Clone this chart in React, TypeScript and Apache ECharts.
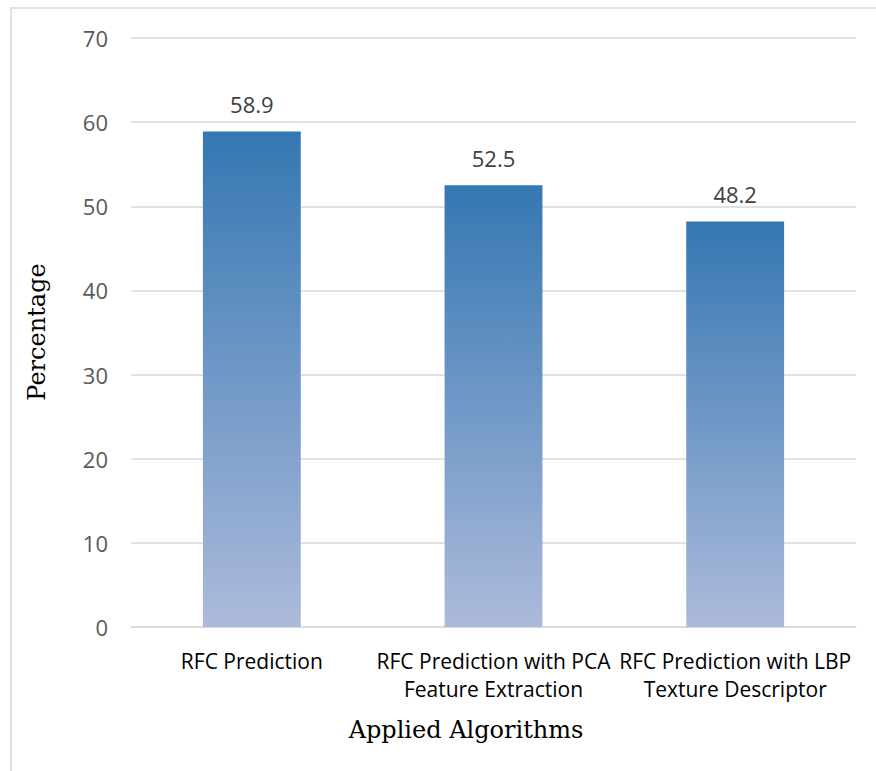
import React, { useEffect, useRef } from "react";
import * as echarts from "echarts";

const categories = [
  "RFC Prediction",
  "RFC Prediction with PCA\nFeature Extraction",
  "RFC Prediction with LBP\nTexture Descriptor",
];
const accuracy = [58.9, 52.5, 48.2];
const yTicks = { min: 0, max: 70, interval: 10 };
const xTitle = "Applied Algorithms";
const yTitle = "Percentage";

export default function App() {
  const ref = useRef<HTMLDivElement>(null);

  useEffect(() => {
    document.body.style.margin = "0";
    const chart = echarts.init(ref.current!, null, { renderer: "svg" });
    const sans = "'Open Sans', 'Noto Sans', sans-serif";
    const serif = "'DejaVu Serif', serif";
    chart.setOption({
      animation: false,
      backgroundColor: "#ffffff",
      grid: { left: 131, right: 20, top: 38, bottom: 144 },
      graphic: [
        {
          type: "rect",
          shape: { x: 11, y: 8, width: 900, height: 800 },
          style: { fill: "none", stroke: "#d9d9d9", lineWidth: 1.5 },
          silent: true,
        },
        {
          type: "text",
          x: 466,
          y: 730,
          style: {
            text: xTitle,
            font: `24px ${serif}`,
            fill: "#000000",
            align: "center",
            verticalAlign: "middle",
          },
        },
        {
          type: "text",
          x: 37,
          y: 332,
          rotation: Math.PI / 2,
          style: {
            text: yTitle,
            font: `24px ${serif}`,
            fill: "#000000",
            align: "center",
            verticalAlign: "middle",
          },
        },
      ],
      xAxis: {
        type: "category",
        data: categories,
        axisTick: { show: false },
        axisLine: { lineStyle: { color: "#d9d9d9", width: 1.5 } },
        axisLabel: {
          interval: 0,
          margin: 20,
          fontFamily: sans,
          fontSize: 21,
          color: "#000000",
          lineHeight: 28,
        },
      },
      yAxis: {
        type: "value",
        ...yTicks,
        axisLine: { show: false },
        axisTick: { show: false },
        splitLine: { lineStyle: { color: "#d9d9d9", width: 1.5 } },
        axisLabel: {
          margin: 23,
          fontFamily: sans,
          fontSize: 22,
          color: "#595959",
        },
      },
      series: [
        {
          type: "bar",
          data: accuracy,
          barWidth: "40.5%",
          itemStyle: {
            color: new echarts.graphic.LinearGradient(0, 0, 0, 1, [
              { offset: 0, color: "#3477b2" },
              { offset: 1, color: "#adbadb" },
            ]),
          },
          label: {
            show: true,
            position: "top",
            distance: 16,
            fontFamily: sans,
            fontSize: 22,
            color: "#404040",
          },
        },
      ],
    });
    return () => chart.dispose();
  }, []);

  return <div ref={ref} style={{ width: 876, height: 771 }} />;
}
